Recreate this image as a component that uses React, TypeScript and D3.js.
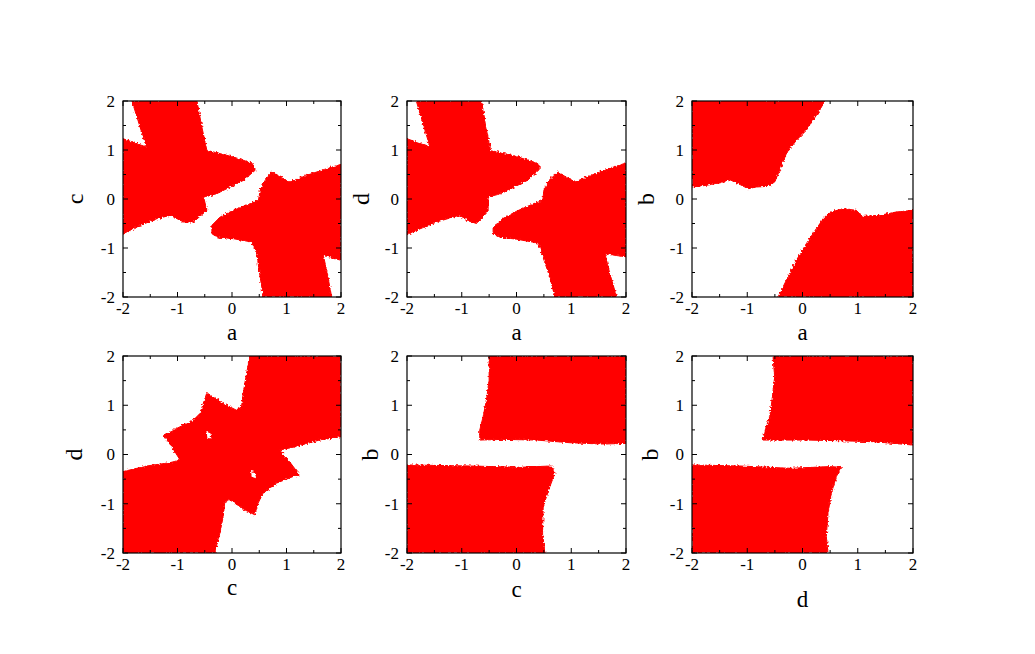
import React from "react";
import * as d3 from "d3";

type Pt = [number, number];

// Tick values
const tickValues = [-2, -1.5, -1, -0.5, 0, 0.5, 1, 1.5, 2];
const tickLabels = ["-2", "-1", "0", "1", "2"];
const majorTicks = [-2, -1, 0, 1, 2];

// Panel (a, c)
const acUpperLeft: Pt[] = [
  [-1.835, 2], [-0.644, 2], [-0.553, 1.469], [-0.461, 0.993], [0.027, 0.857], [0.394, 0.721],
  [0.424, 0.585], [0.211, 0.381], [-0.278, 0.109], [-0.522, 0.041], [-0.461, -0.231],
  [-0.705, -0.469], [-0.889, -0.469], [-1.133, -0.333], [-1.377, -0.401], [-1.682, -0.537],
  [-2, -0.71], [-2, 1.231], [-1.573, 1.061],
];
const acLowerRight: Pt[] = [
  [-0.369, -0.537], [-0.217, -0.367], [0.027, -0.231], [0.333, -0.095], [0.485, -0.027],
  [0.516, 0.177], [0.608, 0.381], [0.73, 0.551], [0.882, 0.449], [1.066, 0.347], [1.371, 0.483],
  [1.737, 0.619], [2, 0.707], [2, -1.252], [1.798, -1.184], [1.676, -1.15], [1.737, -1.456],
  [1.829, -2], [0.577, -2], [0.516, -1.592], [0.455, -1.116], [0.363, -0.878], [0.027, -0.81],
  [-0.278, -0.776], [-0.369, -0.707],
];

// Panel (a, d)
const adUpperLeft: Pt[] = [
  [-1.83, 2], [-0.64, 2], [-0.56, 1.47], [-0.47, 0.99], [0.02, 0.86], [0.41, 0.72],
  [0.415, 0.6], [0.2, 0.38], [-0.28, 0.11], [-0.518, 0.041], [-0.518, -0.25],
  [-0.73, -0.5], [-0.87, -0.45], [-1.04, -0.33], [-1.46, -0.47], [-1.7, -0.58],
  [-2, -0.72], [-2, 1.23], [-1.58, 1.06],
];
const adLowerRight: Pt[] = [
  [-0.427, -0.571], [-0.25, -0.4], [0.0, -0.25], [0.3, -0.1], [0.48, -0.03],
  [0.5, 0.18], [0.6, 0.39], [0.762, 0.551], [0.9, 0.45], [1.07, 0.35], [1.38, 0.49],
  [1.74, 0.64], [2, 0.735], [2, -1.18], [1.8, -1.15], [1.616, -1.116], [1.7, -1.5],
  [1.829, -2], [0.701, -2], [0.61, -1.6], [0.488, -1.2], [0.4, -0.9], [0.0, -0.82],
  [-0.3, -0.78], [-0.427, -0.7],
];

// Panel (a, b)
const abUpperLeft: Pt[] = [
  [-2, 2], [0.401, 2], [0.311, 1.81], [0.069, 1.401], [-0.112, 1.197], [-0.293, 0.925],
  [-0.413, 0.585], [-0.504, 0.347], [-0.624, 0.259], [-0.836, 0.245], [-0.986, 0.211],
  [-1.137, 0.299], [-1.318, 0.395], [-1.499, 0.327], [-1.741, 0.279], [-2, 0.245],
];
const abLowerRight: Pt[] = [
  [-0.443, -2], [-0.293, -1.66], [-0.112, -1.252], [0.069, -0.912], [0.25, -0.605],
  [0.401, -0.367], [0.522, -0.265], [0.733, -0.197], [0.974, -0.231], [1.095, -0.354],
  [1.397, -0.333], [1.698, -0.265], [2, -0.231], [2, -2],
];

// Panel (c, d)
const cdRegion: Pt[] = [
  [0.326, 2], [2, 2], [2, 0.361], [1.604, 0.293], [1.117, 0.145], [0.874, 0.091],
  [1.056, -0.145], [1.239, -0.415], [1.117, -0.449], [0.813, -0.583], [0.569, -0.786],
  [0.478, -0.988], [0.417, -1.224], [0.234, -1.123], [-0.04, -0.921], [-0.131, -0.954],
  [-0.161, -1.258], [-0.222, -1.595], [-0.314, -2], [-2, -2], [-2, -0.347],
  [-1.562, -0.233], [-1.135, -0.165], [-0.953, -0.111], [-1.105, 0.158], [-1.257, 0.395],
  [-1.014, 0.53], [-0.709, 0.698], [-0.588, 0.833], [-0.466, 1.238], [-0.283, 1.137],
  [-0.1, 1.002], [0.082, 0.9], [0.174, 0.968], [0.234, 1.44],
];
const cdHoleA: Pt[] = [[-0.47, 0.48], [-0.4, 0.45], [-0.38, 0.33], [-0.45, 0.33]];
const cdHoleB: Pt[] = [[0.35, -0.33], [0.42, -0.36], [0.44, -0.48], [0.36, -0.45]];

// Panel (c, b)
const cbUpperRight: Pt[] = [
  [-0.5, 2], [2, 2], [2, 0.226], [1.585, 0.212], [0.976, 0.239], [0.366, 0.293],
  [-0.244, 0.307], [-0.671, 0.293], [-0.671, 0.496], [-0.61, 0.766], [-0.549, 1.103], [-0.5, 1.508],
];
const cbLowerLeft: Pt[] = [
  [-2, -0.212], [-0.854, -0.233], [0.061, -0.26], [0.64, -0.233], [0.701, -0.381],
  [0.61, -0.651], [0.488, -1.056], [0.476, -1.595], [0.518, -2], [-2, -2],
];

// Panel (d, b)
const dbUpperRight: Pt[] = [
  [-0.534, 2], [2, 2], [2, 0.192], [1.276, 0.26], [0.673, 0.28], [0.069, 0.293],
  [-0.715, 0.293], [-0.667, 0.53], [-0.594, 0.766], [-0.552, 1.103], [-0.504, 1.575],
];
const dbLowerLeft: Pt[] = [
  [-2, -0.212], [-1.137, -0.233], [-0.232, -0.28], [0.492, -0.246], [0.703, -0.26],
  [0.612, -0.449], [0.522, -0.786], [0.462, -1.191], [0.431, -1.663], [0.462, -2], [-2, -2],
];

const xLabels = ["a", "a", "a", "c", "c", "d"];
const yLabels = ["c", "d", "b", "d", "b", "b"];
const regions: Pt[][][] = [
  [acUpperLeft, acLowerRight],
  [adUpperLeft, adLowerRight],
  [abUpperLeft, abLowerRight],
  [cdRegion],
  [cbUpperRight, cbLowerLeft],
  [dbUpperRight, dbLowerLeft],
];
const holes: Pt[][][] = [[], [], [], [cdHoleA, cdHoleB], [], []];

// Layout
const colX: [number, number][] = [[123, 341], [407, 626], [692, 913]];
const rowY: [number, number][] = [[101, 297], [356, 553]];
const yLabelX = [[76, 362, 647], [75, 371, 651]];
const xLabelBase = [[340, 340, 340], [595, 597, 607]];

const FONT = "'Liberation Serif', 'DejaVu Serif', serif";

function Panel({ idx }: { idx: number }) {
  const r = Math.floor(idx / 3);
  const c = idx % 3;
  const [x0, x1] = colX[c];
  const [y0, y1] = rowY[r];
  const xs = d3.scaleLinear().domain([-2, 2]).range([x0, x1]);
  const ys = d3.scaleLinear().domain([-2, 2]).range([y1, y0]);
  const line = d3
    .line<Pt>()
    .x((d) => xs(d[0]))
    .y((d) => ys(d[1]))
    .curve(d3.curveLinearClosed);
  const clipId = `clip${idx}`;
  return (
    <g>
      <defs>
        <clipPath id={clipId}>
          <rect x={x0} y={y0} width={x1 - x0} height={y1 - y0} />
        </clipPath>
      </defs>
      <g clipPath={`url(#${clipId})`}>
        <g filter="url(#rough)">
          {regions[idx].map((poly, i) => (
            <path key={i} d={line(poly) || ""} fill="#ff0000" stroke="#ff0000" strokeWidth={1} />
          ))}
          {holes[idx].map((poly, i) => (
            <path key={"h" + i} d={line(poly) || ""} fill="#ffffff" />
          ))}
        </g>
      </g>
      {tickValues.map((v) => {
        const major = majorTicks.includes(v);
        const len = major ? 5 : 3;
        const px = xs(v);
        const py = ys(v);
        return (
          <g key={v} stroke="#000" strokeWidth={1}>
            <line x1={px} x2={px} y1={y1} y2={y1 - len} />
            <line x1={px} x2={px} y1={y0} y2={y0 + len} />
            <line x1={x0} x2={x0 + len} y1={py} y2={py} />
            <line x1={x1} x2={x1 - len} y1={py} y2={py} />
          </g>
        );
      })}
      <rect x={x0} y={y0} width={x1 - x0} height={y1 - y0} fill="none" stroke="#000" strokeWidth={1.2} />
      {majorTicks.map((v, i) => (
        <text
          key={"xt" + v}
          x={xs(v)}
          y={y1 + 17}
          textAnchor="middle"
          fontFamily={FONT}
          fontSize={17}
          fill="#000"
        >
          {tickLabels[i]}
        </text>
      ))}
      {majorTicks.map((v, i) => (
        <text
          key={"yt" + v}
          x={x0 - 8}
          y={ys(v)}
          dy="0.35em"
          textAnchor="end"
          fontFamily={FONT}
          fontSize={17}
          fill="#000"
        >
          {tickLabels[i]}
        </text>
      ))}
      <text
        x={(x0 + x1) / 2}
        y={xLabelBase[r][c]}
        textAnchor="middle"
        fontFamily={FONT}
        fontSize={23}
        fill="#000"
      >
        {xLabels[idx]}
      </text>
      <text
        transform={`translate(${yLabelX[r][c]},${(y0 + y1) / 2}) rotate(-90)`}
        textAnchor="middle"
        dy="0.3em"
        fontFamily={FONT}
        fontSize={24}
        fill="#000"
      >
        {yLabels[idx]}
      </text>
    </g>
  );
}

export default function App() {
  return (
    <svg
      width={1035}
      height={654}
      style={{ position: "absolute", left: 0, top: 0, background: "#fff" }}
    >
      <defs>
        <filter id="rough" x="-5%" y="-5%" width="110%" height="110%">
          <feTurbulence type="fractalNoise" baseFrequency="0.5" numOctaves={2} seed={3} result="n" />
          <feDisplacementMap in="SourceGraphic" in2="n" scale={4} xChannelSelector="R" yChannelSelector="G" />
        </filter>
      </defs>
      <rect width={1035} height={654} fill="#fff" />
      {d3.range(6).map((i) => (
        <Panel key={i} idx={i} />
      ))}
    </svg>
  );
}
